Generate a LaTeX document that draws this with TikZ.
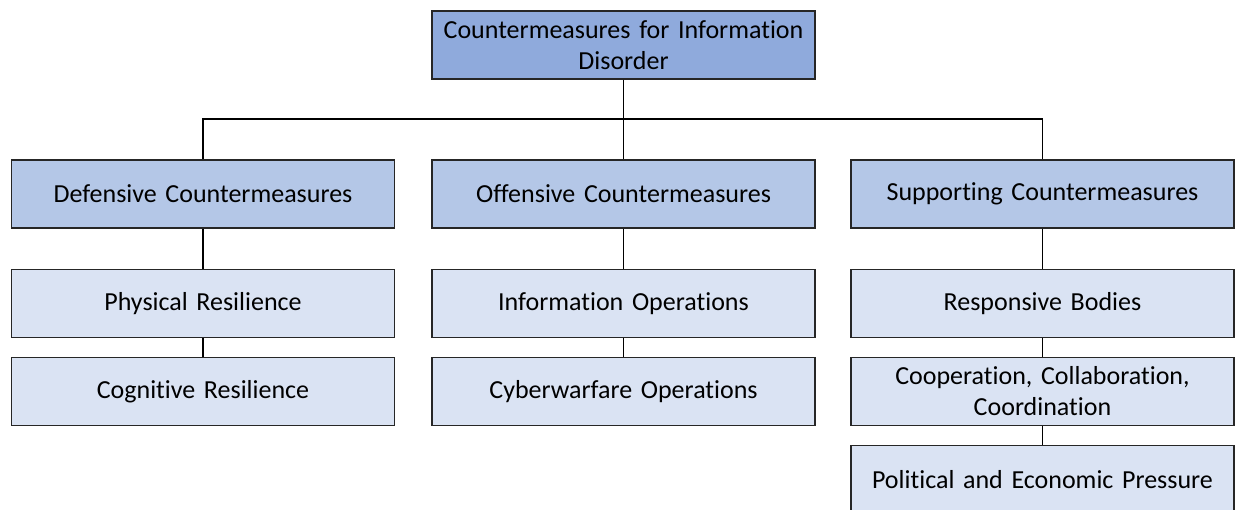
\documentclass[tikz,border=0pt]{standalone}
\usepackage{fontspec}
\setmainfont{Carlito}[Ligatures=NoCommon, WordSpace=0.85]
\definecolor{topfill}{HTML}{8FAADC}
\definecolor{midfill}{HTML}{B4C7E7}
\definecolor{lowfill}{HTML}{DAE3F3}
\definecolor{edge}{HTML}{262626}
\begin{document}
\begin{tikzpicture}[x=1pt,y=-1pt,
  box/.style={draw=edge, line width=1.5pt, minimum width=383pt, minimum height=68pt,
    inner sep=2pt, align=center, text width=375pt, font=\fontsize{26}{31}\selectfont},
  topbox/.style={box, fill=topfill},
  midbox/.style={box, fill=midfill},
  lowbox/.style={box, fill=lowfill},
  link/.style={draw=black, line width=1.5pt}]
\useasboundingbox (0,0) rectangle (1236,510);
\clip (0,0) rectangle (1236,510);
% nodes
\node[topbox] (root) at (623.5,45) {Countermeasures for Information\\Disorder};
\node[midbox] (def) at (203,194) {Defensive Countermeasures};
\node[midbox] (off) at (623.5,194) {Offensive Countermeasures};
\node[midbox] (sup) at (1042.5,194) {Supporting Countermeasures};
\node[lowbox] (phys) at (203,303.5) {Physical Resilience};
\node[lowbox] (cog) at (203,391.5) {Cognitive Resilience};
\node[lowbox] (info) at (623.5,303.5) {Information Operations};
\node[lowbox] (cyber) at (623.5,391.5) {Cyberwarfare Operations};
\node[lowbox] (resp) at (1042.5,303.5) {Responsive Bodies};
\node[lowbox] (coop) at (1042.5,391.5) {Cooperation, Collaboration,\\Coordination};
\node[lowbox] (pol) at (1042.5,479.5) {Political and Economic Pressure};
% connectors
\coordinate (bar) at (623.5,119);
\draw[link] (root.south) -- (bar);
\draw[link] (def.north) |- (bar) -| (sup.north);
\draw[link] (bar) -- (off.north);
\draw[link] (def) -- (phys);
\draw[link] (phys) -- (cog);
\draw[link] (off) -- (info);
\draw[link] (info) -- (cyber);
\draw[link] (sup) -- (resp);
\draw[link] (resp) -- (coop);
\draw[link] (coop) -- (pol);
\end{tikzpicture}
\end{document}
